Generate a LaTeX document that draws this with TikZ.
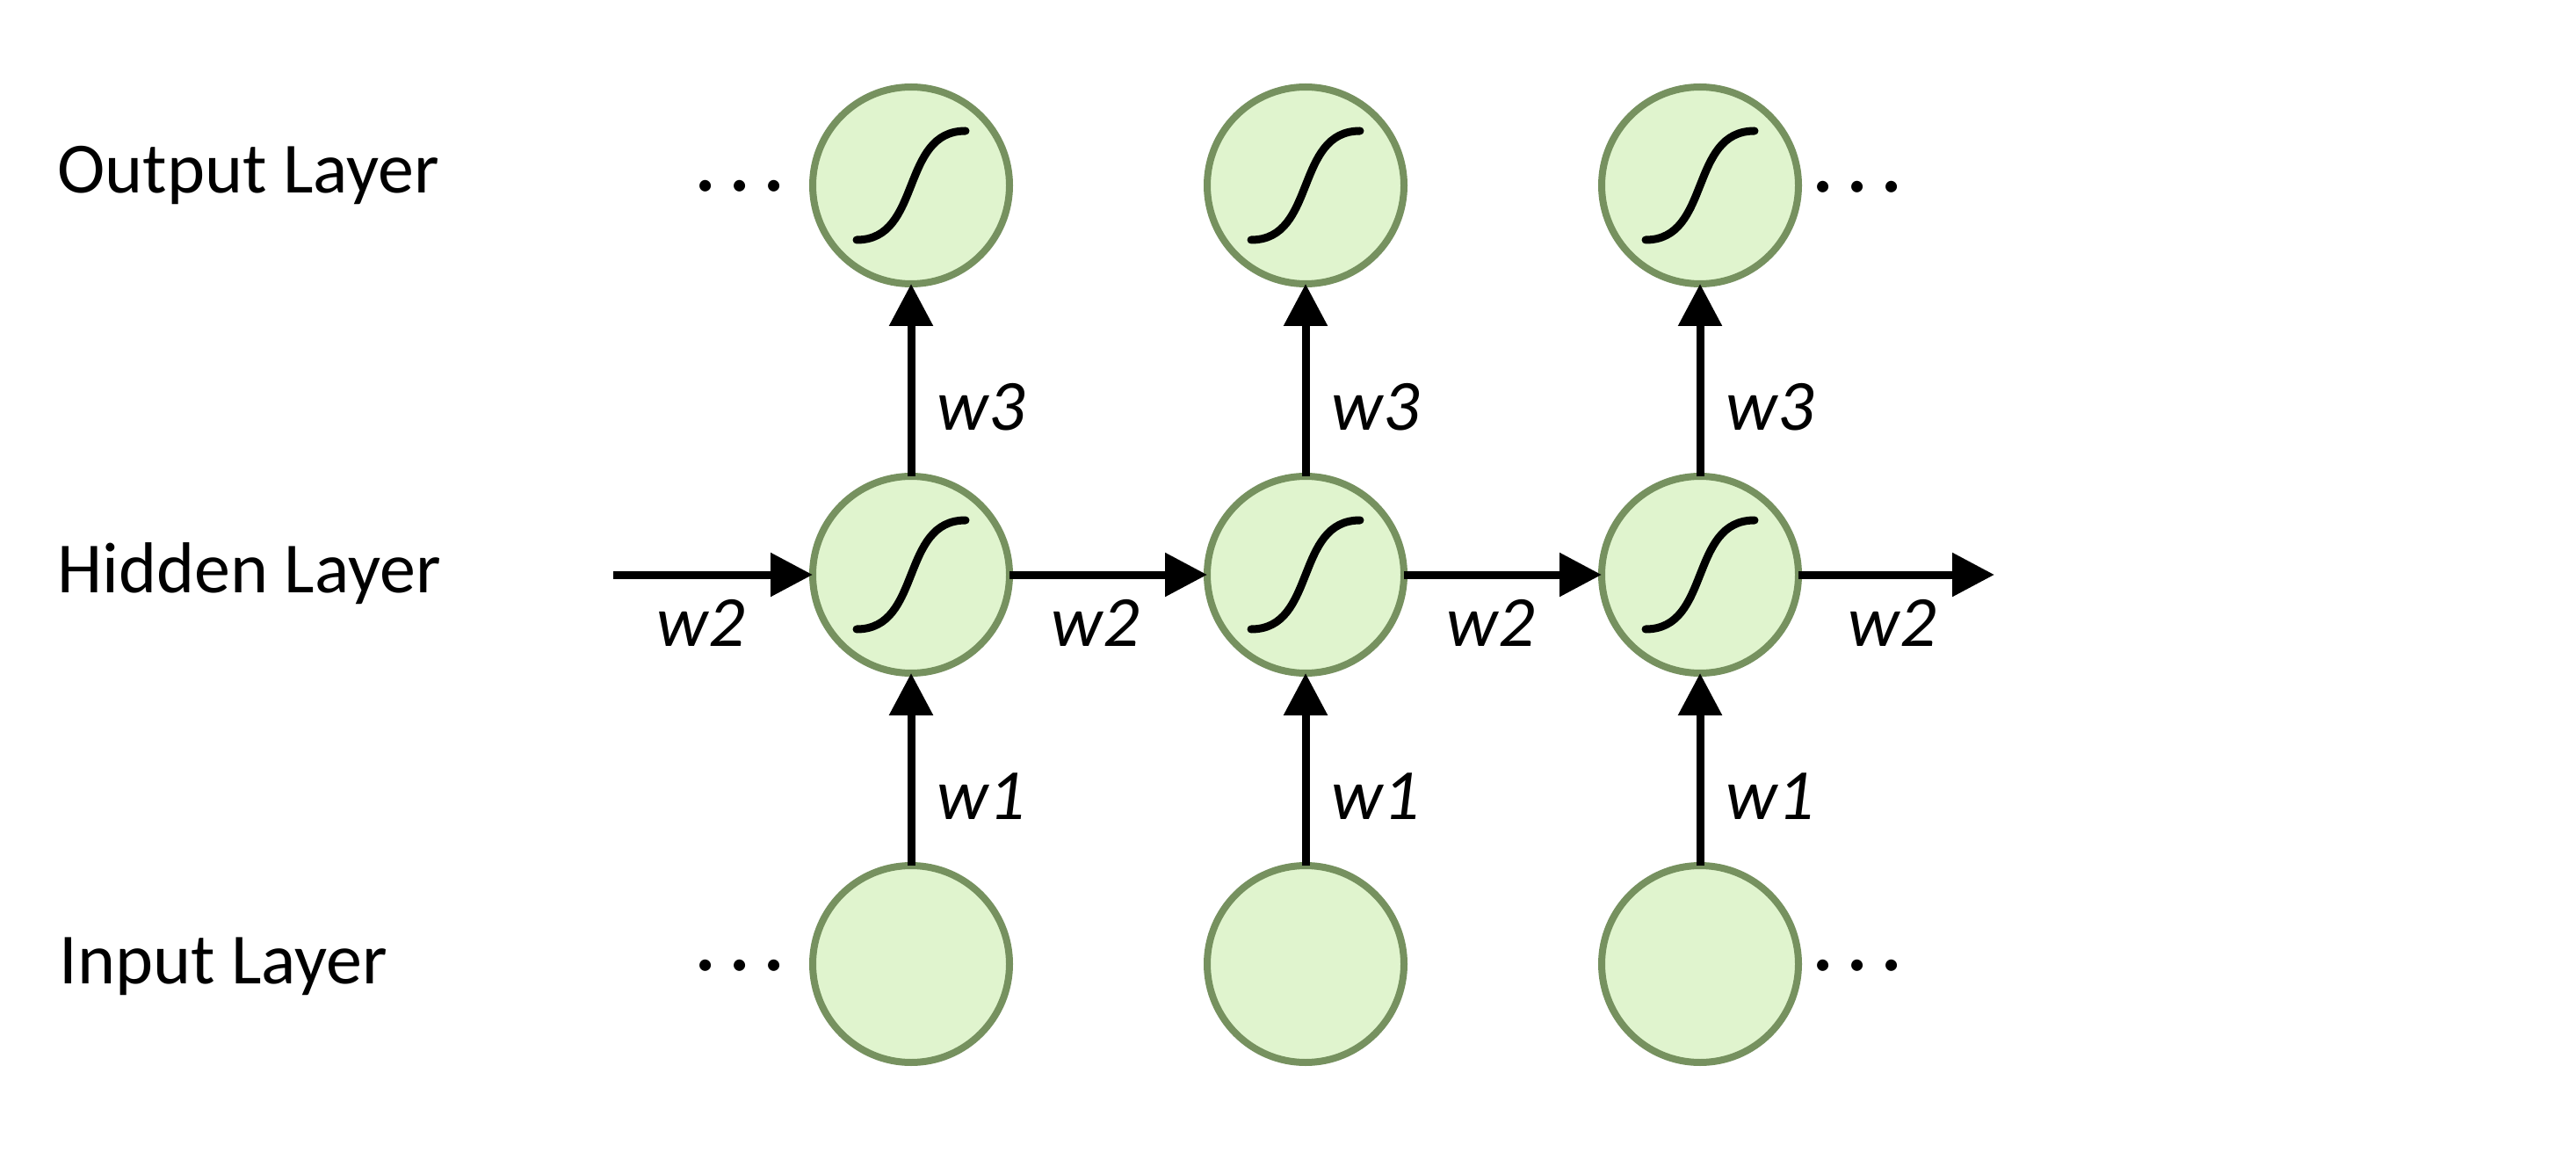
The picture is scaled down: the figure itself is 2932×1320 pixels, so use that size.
\documentclass[tikz,border=0pt]{standalone}
\usepackage{fontspec}
\setmainfont{Carlito}
\usetikzlibrary{arrows.meta}
\definecolor{cellfill}{RGB}{224,244,206}
\definecolor{cellline}{RGB}{118,145,95}
\begin{document}
\begin{tikzpicture}[x=0.5pt,y=-0.5pt,
  cell/.style={circle,draw=cellline,fill=cellfill,line width=4pt,
    minimum size=112pt,inner sep=0pt,outer sep=0pt},
  link/.style={line width=4.5pt,-{Triangle[length=24pt,width=24pt]}},
  layername/.style={anchor=base west,inner sep=0pt,font=\fontsize{41}{41}\selectfont},
  weight/.style={anchor=base,inner sep=0pt,font=\fontsize{41}{41}\selectfont\itshape},
  more/.style={anchor=base,inner sep=0pt,font=\fontsize{54}{54}\selectfont},
  sigmoid/.pic={\draw[line width=4.5pt,line cap=round]
    (-62,62) .. controls (13,62) and (-13,-62) .. (62,-62);}
]
\fill[white] (0,0) rectangle (2932,1320);
\useasboundingbox (0,0) rectangle (2932,1320);

% layer names
\node[layername] (lo) at (65,220) {Output Layer};
\node[layername] (lh) at (65,674) {Hidden Layer};
\node[layername] (li) at (67,1119) {Input Layer};

% cells: three time steps
\foreach \c/\x in {1/1037,2/1486,3/1935}{
  \node[cell] (o\c) at (\x,211) {};
  \node[cell] (h\c) at (\x,654) {};
  \node[cell] (i\c) at (\x,1097) {};
  \pic at (o\c) {sigmoid};
  \pic at (h\c) {sigmoid};
}

% continuation marks
\node[more] (mol) at (842,218) {.\kern6pt.\kern6pt.};
\node[more] (mil) at (842,1104) {.\kern6pt.\kern6pt.};
\node[more] (mor) at (2114,219) {.\kern6pt.\kern6pt.};
\node[more] (mir) at (2114,1104) {.\kern6pt.\kern6pt.};

% recurrent connections
\coordinate (hin) at (698,654);
\coordinate (hout) at (2270,656);
\draw[link] (hin) -- (h1);
\draw[link] (h1) -- (h2);
\draw[link] (h2) -- (h3);
\draw[link] (h3) -- (hout |- h3);

% input and output connections
\foreach \c in {1,2,3}{
  \draw[link] (i\c) -- (h\c);
  \draw[link] (h\c) -- (o\c);
}

% weights
\node[weight] (w2a) at (798,735) {w2};
\node[weight] (w2b) at (1247,735) {w2};
\node[weight] (w2c) at (1697,735) {w2};
\node[weight] (w2d) at (2154,735) {w2};
\foreach \c/\x in {1/1117,2/1566,3/2015}{
  \node[weight] (w3\c) at (\x,490) {w3};
  \node[weight] (w1\c) at (\x,932) {w1};
}
\end{tikzpicture}
\end{document}
